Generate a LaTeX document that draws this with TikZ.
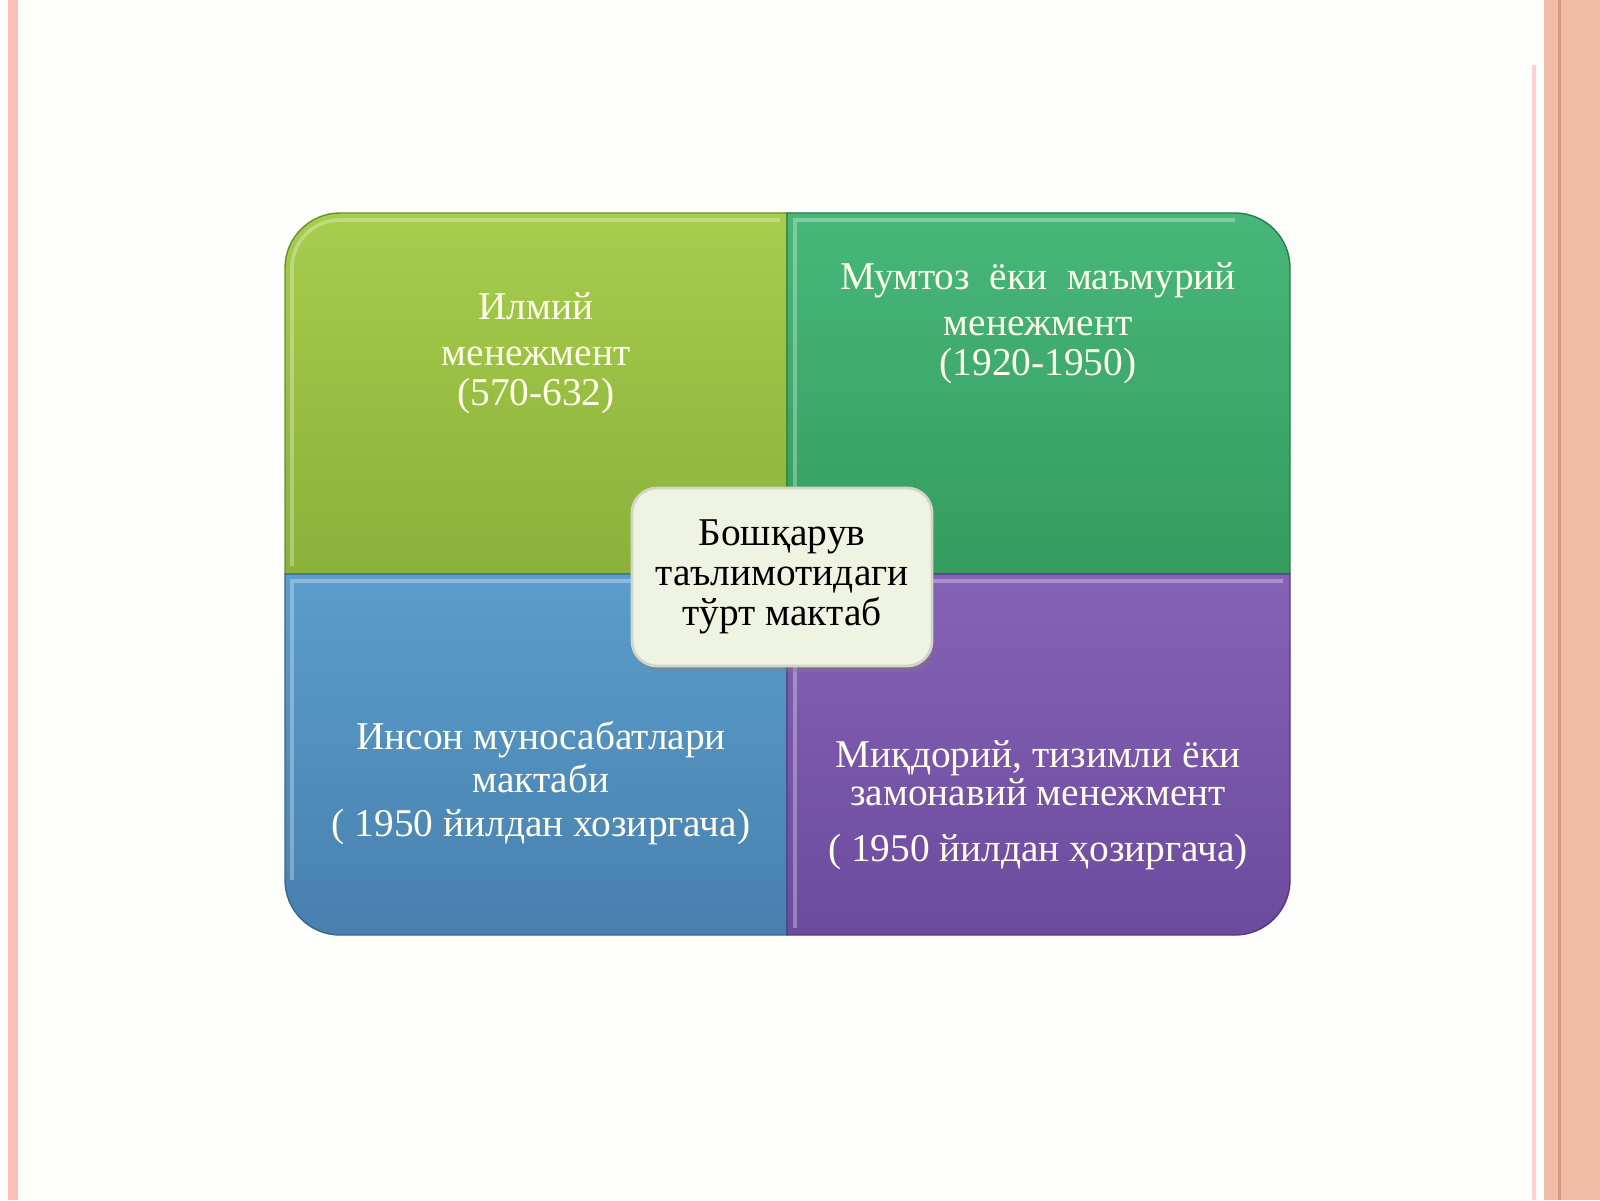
\documentclass[tikz,border=0pt]{standalone}
\usepackage{fontspec}
\setmainfont{Liberation Serif}
\usetikzlibrary{shadows}
\definecolor{pagebg}{HTML}{FDFEFC}
\definecolor{edgepink}{HTML}{FBBFB5}
\definecolor{bandpink}{HTML}{F2BBA5}
\definecolor{bandline}{HTML}{D49A7E}
\definecolor{greentop}{HTML}{A6CD4C}
\definecolor{greenbot}{HTML}{8AB13A}
\definecolor{tealtop}{HTML}{47B879}
\definecolor{tealbot}{HTML}{359B5F}
\definecolor{bluetop}{HTML}{5B9DCC}
\definecolor{bluebot}{HTML}{4880AE}
\definecolor{purptop}{HTML}{8562B6}
\definecolor{purpbot}{HTML}{6C4A9E}
\definecolor{boxfill}{HTML}{EEF3E2}
\begin{document}
\begin{tikzpicture}[
    quadtext/.style={text=white!92!yellow, align=center, font=\fontsize{11.2}{12.4}\selectfont},
    bevel/.style={white, opacity=0.3, line width=1pt},
  ]
  \useasboundingbox (0,0) rectangle (16,12);
  \fill[pagebg] (0,0) rectangle (16,12);
  % page edges
  \fill[edgepink] (0.08,0) rectangle (0.18,12);
  \fill[pink!70] (15.32,0) rectangle (15.36,11.35);
  \fill[bandpink] (15.44,0) rectangle (16,12);
  \fill[bandline] (15.58,0) rectangle (15.61,12);

  % four quadrants
  \draw[greenbot!80!black, top color=greentop, bottom color=greenbot]
    (7.87,6.26) -- (2.85,6.26) -- (2.85,9.32) arc[start angle=180, end angle=90, radius=0.55] -- (7.87,9.87) -- cycle;
  \draw[tealbot!80!black, top color=tealtop, bottom color=tealbot]
    (7.87,6.26) -- (7.87,9.87) -- (12.35,9.87) arc[start angle=90, end angle=0, radius=0.55] -- (12.90,6.26) -- cycle;
  \draw[bluebot!80!black, top color=bluetop, bottom color=bluebot]
    (7.87,6.26) -- (2.85,6.26) -- (2.85,3.20) arc[start angle=180, end angle=270, radius=0.55] -- (7.87,2.65) -- cycle;
  \draw[purpbot!80!black, top color=purptop, bottom color=purpbot]
    (7.87,6.26) -- (7.87,2.65) -- (12.35,2.65) arc[start angle=270, end angle=360, radius=0.55] -- (12.90,6.26) -- cycle;
  % bevel highlights
  \draw[bevel] (2.92,6.34) -- (2.92,9.32) arc[start angle=180, end angle=90, radius=0.48] -- (7.80,9.80);
  \draw[bevel] (7.95,6.34) -- (7.95,9.80) -- (12.35,9.80);
  \draw[bevel] (2.92,3.20) -- (2.92,6.19) -- (7.80,6.19);
  \draw[bevel] (7.95,2.72) -- (7.95,6.19) -- (12.83,6.19);

  \node[quadtext] (ilmiy) at (5.36,8.47) {Илмий\\[0.6pt] менежмент\\[-1pt] (570-632)};
  \node[quadtext] (mumtoz) at (10.38,8.77) {Мумтоз\ \ ёки\ \ маъмурий\\[0.6pt] менежмент\\[-1pt] (1920-1950)};
  \node[quadtext] (inson) at (5.41,4.17) {Инсон муносабатлари\\ мактаби\\ ( 1950 йилдан хозиргача)};
  \node[quadtext] (miqdoriy) at (10.38,3.95) {Миқдорий, тизимли ёки\\[-1.5pt] замонавий менежмент\\[3.5pt] ( 1950 йилдан ҳозиргача)};

  % centre box
  \node[draw=boxfill!75!gray, line width=0.8pt, rounded corners=0.25cm, fill=boxfill,
        drop shadow={shadow xshift=0.02, shadow yshift=-0.06, opacity=0.35},
        minimum width=3.0cm, minimum height=1.78cm, align=center,
        font=\fontsize{11.2}{11.4}\selectfont] (markaz) at (7.82,6.23)
        {Бошқарув\\ таълимотидаги\\ тўрт мактаб};
\end{tikzpicture}
\end{document}
